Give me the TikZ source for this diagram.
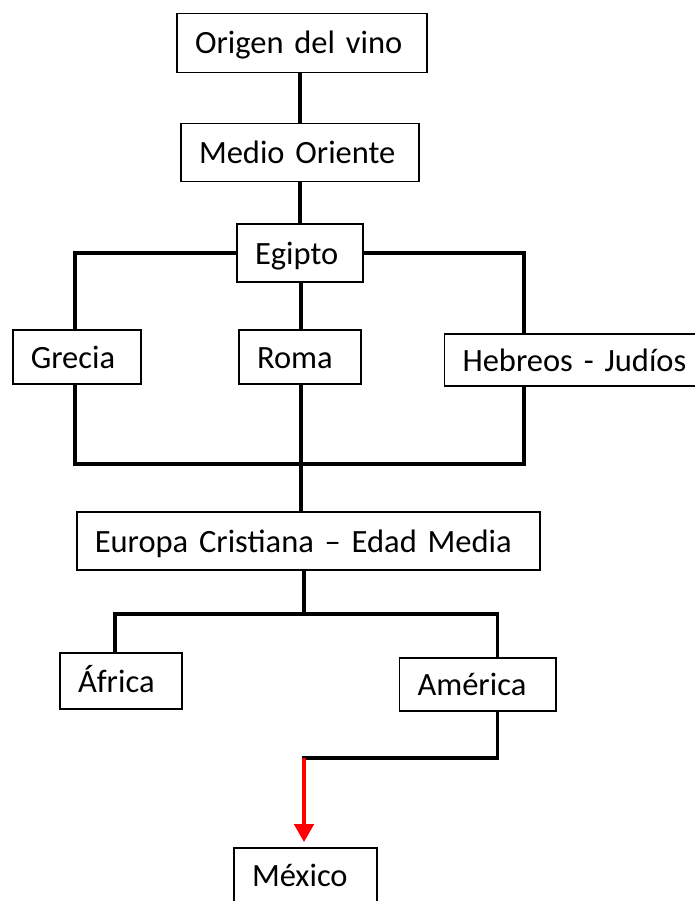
\documentclass[tikz,border=0pt]{standalone}
\usepackage{fontspec}
\setmainfont{Carlito}
\usetikzlibrary{arrows.meta}
\begin{document}
\begin{tikzpicture}[x=1pt,y=-1pt,
  box/.style={draw=black, line width=1.6pt, fill=white, inner xsep=18pt, inner ysep=0pt,
    align=left, font=\fontsize{32.5}{36}\selectfont, text height=25pt, text depth=3pt, anchor=center},
  conn/.style={draw=black, line width=3.4pt, line cap=rect},
  redarrow/.style={draw=red, line width=4.5pt, -{Triangle[width=19pt,length=18pt]}, red}
]
\useasboundingbox (0,0) rectangle (695,901);
% boxes
\node[box, text width=214pt, minimum height=59pt] (orig) at (302,43) {Origen del vino};
\node[box, text width=202pt, minimum height=58pt] (medio) at (300,152.5) {Medio Oriente};
\node[box, text width=90pt, minimum height=58pt] (egipto) at (300,253) {Egipto};
\node[box, text width=92.5pt, minimum height=54pt] (grecia) at (77,357) {Grecia};
\node[box, text width=86pt, minimum height=54pt] (roma) at (300,357) {Roma};
\node[box, text width=244pt, minimum height=52pt] (hebreos) at (584.5,360) {Hebreos - Judíos};
\node[box, text width=427pt, minimum height=58pt] (europa) at (308.3,541) {Europa Cristiana – Edad Media};
\node[box, text width=86pt, minimum height=56pt] (africa) at (121,681) {África};
\node[box, text width=120.5pt, minimum height=53pt] (america) at (477.75,684.5) {América};
\node[box, text width=107pt, minimum height=54pt] (mexico) at (305.5,875) {México};
% junction coordinates
\coordinate (j1) at (301,464);
\coordinate (j2) at (304,614);
\coordinate (j3) at (304,758);
% connectors
\draw[conn] (orig.south -| egipto.north) -- (medio.north -| egipto.north);
\draw[conn] (medio.south -| egipto.north) -- (egipto.north);
\draw[conn] (egipto.west) -| ([xshift=-2pt]grecia.north);
\draw[conn] (egipto.east) -| ([xshift=-60.5pt]hebreos.north);
\draw[conn] (egipto.south -| j1) -- (roma.north -| j1);
\draw[conn] ([xshift=-2pt]grecia.south) |- (j1) -| ([xshift=-60.5pt]hebreos.south);
\draw[conn] (roma.south -| j1) -- (europa.north -| j1);
\draw[conn] (j2 |- europa.south) -- (j2);
\draw[conn] ([xshift=-6pt]africa.north) |- (j2) -| ([xshift=19.75pt]america.north);
\draw[conn] ([xshift=19.75pt]america.south) |- (j3);
\draw[redarrow] (j3) -- ([yshift=5pt]mexico.north -| j3);
\end{tikzpicture}
\end{document}
